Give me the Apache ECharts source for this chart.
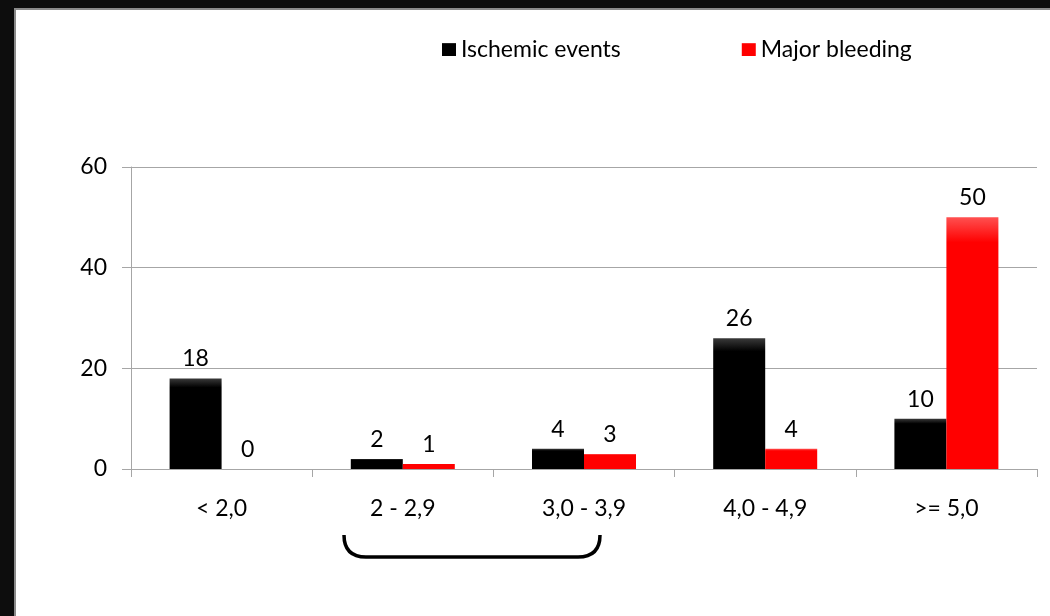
<!DOCTYPE html>
<html>
<head>
<meta charset="utf-8">
<script src="https://cdn.jsdelivr.net/npm/echarts@6/dist/echarts.min.js"></script>
<style>
  html, body { margin: 0; padding: 0; background: #0d0d0d; }
  #chart { width: 1050px; height: 616px; }
</style>
</head>
<body>
<div id="chart"></div>
<script>
// 数据
var categories = ['< 2,0', '2 - 2,9', '3,0 - 3,9', '4,0 - 4,9', '>= 5,0'];
var ischemic = [18, 2, 4, 26, 10];
var bleeding = [0, 1, 3, 4, 50];
var yTicks = { min: 0, max: 60, interval: 20 };

var font = 'Lato';
var fontSize = 23;
var myChart = echarts.init(document.getElementById('chart'));

// 柱子的渐变（上沿稍亮）
function barGradient(top, main) {
    return {
        type: 'linear', x: 0, y: 0, x2: 0, y2: 1,
        colorStops: [
            { offset: 0, color: top },
            { offset: 0.1, color: main },
            { offset: 1, color: main }
        ]
    };
}

var bracketStyle = { stroke: '#000', lineWidth: 3.5, fill: null };
var labelStyle = { show: true, position: 'top', distance: 8, fontFamily: font, fontSize: fontSize, color: '#000' };

var option = {
    backgroundColor: '#ffffff',
    textStyle: { fontFamily: font, color: '#000' },
    legend: {
        left: 437,
        top: 33,
        itemWidth: 14,
        itemHeight: 13,
        itemGap: 121,
        icon: 'rect',
        textStyle: { fontFamily: font, fontSize: fontSize, color: '#000' },
        data: ['Ischemic events', 'Major bleeding']
    },
    grid: {
        left: 131,
        right: 13,
        top: 167,
        bottom: 147
    },
    xAxis: {
        type: 'category',
        data: categories,
        axisLine: { lineStyle: { color: '#a6a6a6', width: 1 } },
        axisTick: { show: true, length: 8, lineStyle: { color: '#a6a6a6' } },
        axisLabel: { fontFamily: font, fontSize: fontSize, color: '#000', margin: 28 }
    },
    yAxis: {
        type: 'value',
        min: yTicks.min,
        max: yTicks.max,
        interval: yTicks.interval,
        axisLine: { show: true, lineStyle: { color: '#a6a6a6' } },
        axisTick: { show: true, length: 9, lineStyle: { color: '#a6a6a6' } },
        splitLine: { lineStyle: { color: '#a6a6a6' } },
        axisLabel: { fontFamily: font, fontSize: fontSize, color: '#000', margin: 24 }
    },
    series: [
        {
            name: 'Ischemic events',
            type: 'bar',
            barWidth: 52,
            barGap: 0,
            data: ischemic,
            itemStyle: { color: barGradient('#3a3a3a', '#000000') },
            label: labelStyle
        },
        {
            name: 'Major bleeding',
            type: 'bar',
            barWidth: 52,
            data: bleeding,
            itemStyle: { color: barGradient('#ff5050', '#ff0000') },
            label: labelStyle
        }
    ],
    graphic: [
        // 黑色边框
        { type: 'rect', shape: { x: 0, y: 0, width: 14, height: 616 }, style: { fill: '#0d0d0d' } },
        { type: 'rect', shape: { x: 0, y: 0, width: 1050, height: 8 }, style: { fill: '#0d0d0d' } },
        { type: 'line', shape: { x1: 15, y1: 9, x2: 15, y2: 616 }, style: { stroke: '#8a8a8a', lineWidth: 2 } },
        { type: 'line', shape: { x1: 14, y1: 9, x2: 1050, y2: 9 }, style: { stroke: '#8a8a8a', lineWidth: 2 } },
        // 括号
        { type: 'bezierCurve', shape: { x1: 344, y1: 535, cpx1: 344, cpy1: 557, x2: 366, y2: 557 }, style: bracketStyle },
        { type: 'line', shape: { x1: 366, y1: 557, x2: 578, y2: 557 }, style: bracketStyle },
        { type: 'bezierCurve', shape: { x1: 578, y1: 557, cpx1: 600, cpy1: 557, x2: 600, y2: 535 }, style: bracketStyle }
    ]
};

myChart.setOption(option);
</script>
</body>
</html>
